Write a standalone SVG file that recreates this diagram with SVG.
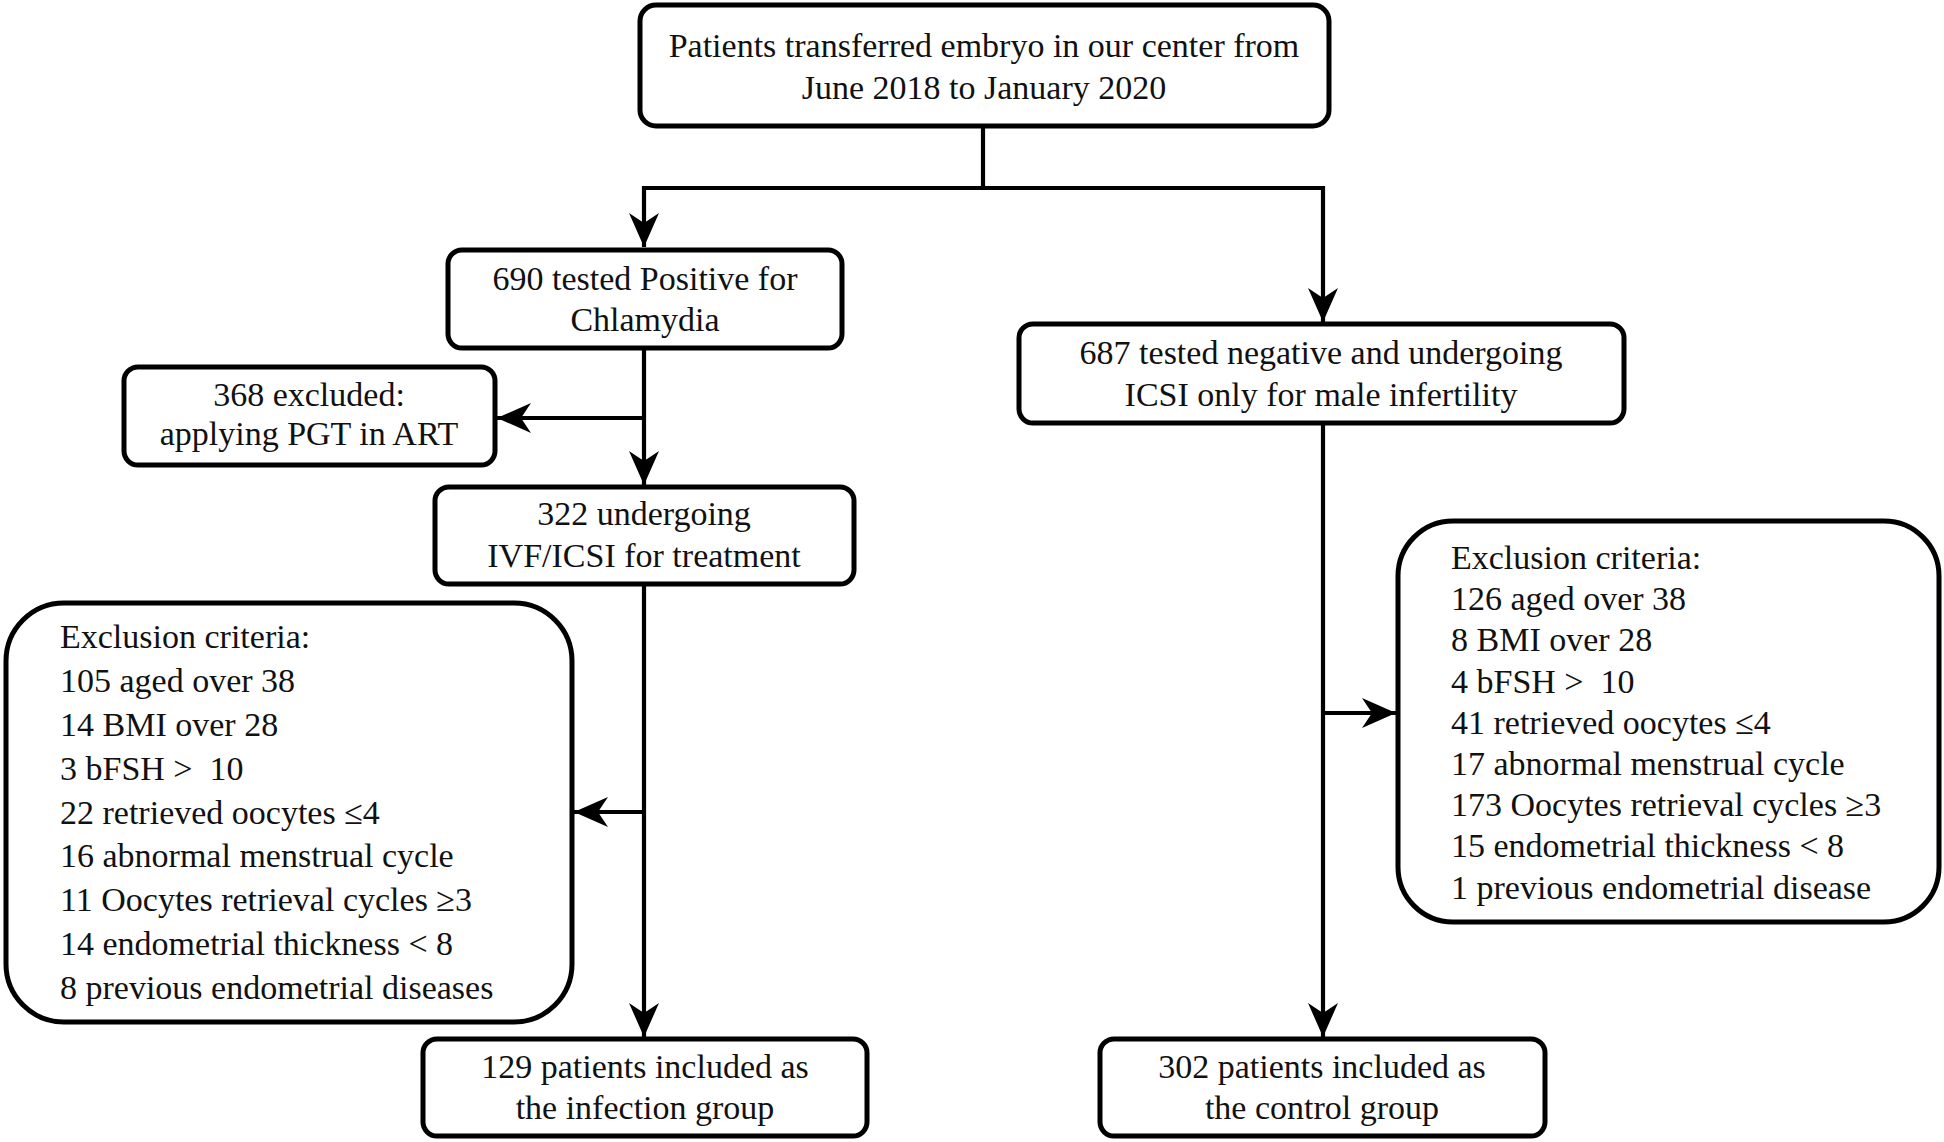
<svg xmlns="http://www.w3.org/2000/svg" width="1944" height="1142" viewBox="0 0 1944 1142">
<defs>
<style>
.box{fill:#fff;stroke:#000;stroke-width:5}
.t{font-family:"Liberation Serif","Times New Roman",serif;font-size:34px;fill:#111}
.c{text-anchor:middle}
.l{text-anchor:start}
.ln{fill:none;stroke:#000;stroke-width:4.2}
</style>
<marker id="ah" viewBox="-36 -17 38 34" refX="0" refY="0" markerWidth="38" markerHeight="34" markerUnits="userSpaceOnUse" orient="auto">
<path d="M0 0 L-34 -15 L-24 0 L-34 15 Z" fill="#000"/>
</marker>
</defs>
<rect width="1944" height="1142" fill="#fff"/>
<g id="connectors">
<path class="ln" d="M983 126 V188"/>
<path class="ln" d="M642 188 H1325"/>
<path class="ln" d="M644 186 V247" marker-end="url(#ah)"/>
<path class="ln" d="M1323 186 V322" marker-end="url(#ah)"/>
<path class="ln" d="M644 348 V485" marker-end="url(#ah)"/>
<path class="ln" d="M644 418 H497" marker-end="url(#ah)"/>
<path class="ln" d="M644 584 V1037" marker-end="url(#ah)"/>
<path class="ln" d="M644 812 H574" marker-end="url(#ah)"/>
<path class="ln" d="M1323 423 V1037" marker-end="url(#ah)"/>
<path class="ln" d="M1323 713 H1396" marker-end="url(#ah)"/>
</g>
<g id="n_top">
<rect class="box" x="640" y="5" width="689" height="121" rx="16"/>
<text class="t c" x="984" y="57">Patients transferred embryo in our center from</text>
<text class="t c" x="984" y="99">June 2018 to January 2020</text>
</g>
<g id="n_pos">
<rect class="box" x="448" y="250" width="394" height="98" rx="14"/>
<text class="t c" x="645" y="290">690 tested Positive for</text>
<text class="t c" x="645" y="331">Chlamydia</text>
</g>
<g id="n_excl_pgt">
<rect class="box" x="124" y="367" width="371" height="98" rx="14"/>
<text class="t c" x="309" y="406">368 excluded:</text>
<text class="t c" x="309" y="445">applying PGT in ART</text>
</g>
<g id="n_ivf">
<rect class="box" x="435" y="487" width="419" height="97" rx="14"/>
<text class="t c" x="644" y="525">322 undergoing</text>
<text class="t c" x="644" y="567">IVF/ICSI for treatment</text>
</g>
<g id="n_neg">
<rect class="box" x="1019" y="324" width="605" height="99" rx="14"/>
<text class="t c" x="1321" y="364">687 tested negative and undergoing</text>
<text class="t c" x="1321" y="406">ICSI only for male infertility</text>
</g>
<g id="n_excl_left">
<rect class="box" x="6" y="603" width="566" height="419" rx="58"/>
<text class="t l" x="60" y="648">Exclusion criteria:</text>
<text class="t l" x="60" y="692">105 aged over 38</text>
<text class="t l" x="60" y="736">14 BMI over 28</text>
<text class="t l" x="60" y="780" xml:space="preserve">3 bFSH &gt;  10</text>
<text class="t l" x="60" y="824">22 retrieved oocytes ≤4</text>
<text class="t l" x="60" y="867">16 abnormal menstrual cycle</text>
<text class="t l" x="60" y="911">11 Oocytes retrieval cycles ≥3</text>
<text class="t l" x="60" y="955">14 endometrial thickness &lt; 8</text>
<text class="t l" x="60" y="999">8 previous endometrial diseases</text>
</g>
<g id="n_excl_right">
<rect class="box" x="1398" y="521" width="541" height="401" rx="55"/>
<text class="t l" x="1451" y="569">Exclusion criteria:</text>
<text class="t l" x="1451" y="610">126 aged over 38</text>
<text class="t l" x="1451" y="651">8 BMI over 28</text>
<text class="t l" x="1451" y="693" xml:space="preserve">4 bFSH &gt;  10</text>
<text class="t l" x="1451" y="734">41 retrieved oocytes ≤4</text>
<text class="t l" x="1451" y="775">17 abnormal menstrual cycle</text>
<text class="t l" x="1451" y="816">173 Oocytes retrieval cycles ≥3</text>
<text class="t l" x="1451" y="857">15 endometrial thickness &lt; 8</text>
<text class="t l" x="1451" y="899">1 previous endometrial disease</text>
</g>
<g id="n_infection">
<rect class="box" x="423" y="1039" width="444" height="97" rx="14"/>
<text class="t c" x="645" y="1078">129 patients included as</text>
<text class="t c" x="645" y="1119">the infection group</text>
</g>
<g id="n_control">
<rect class="box" x="1100" y="1039" width="445" height="97" rx="14"/>
<text class="t c" x="1322" y="1078">302 patients included as</text>
<text class="t c" x="1322" y="1119">the control group</text>
</g>
</svg>
